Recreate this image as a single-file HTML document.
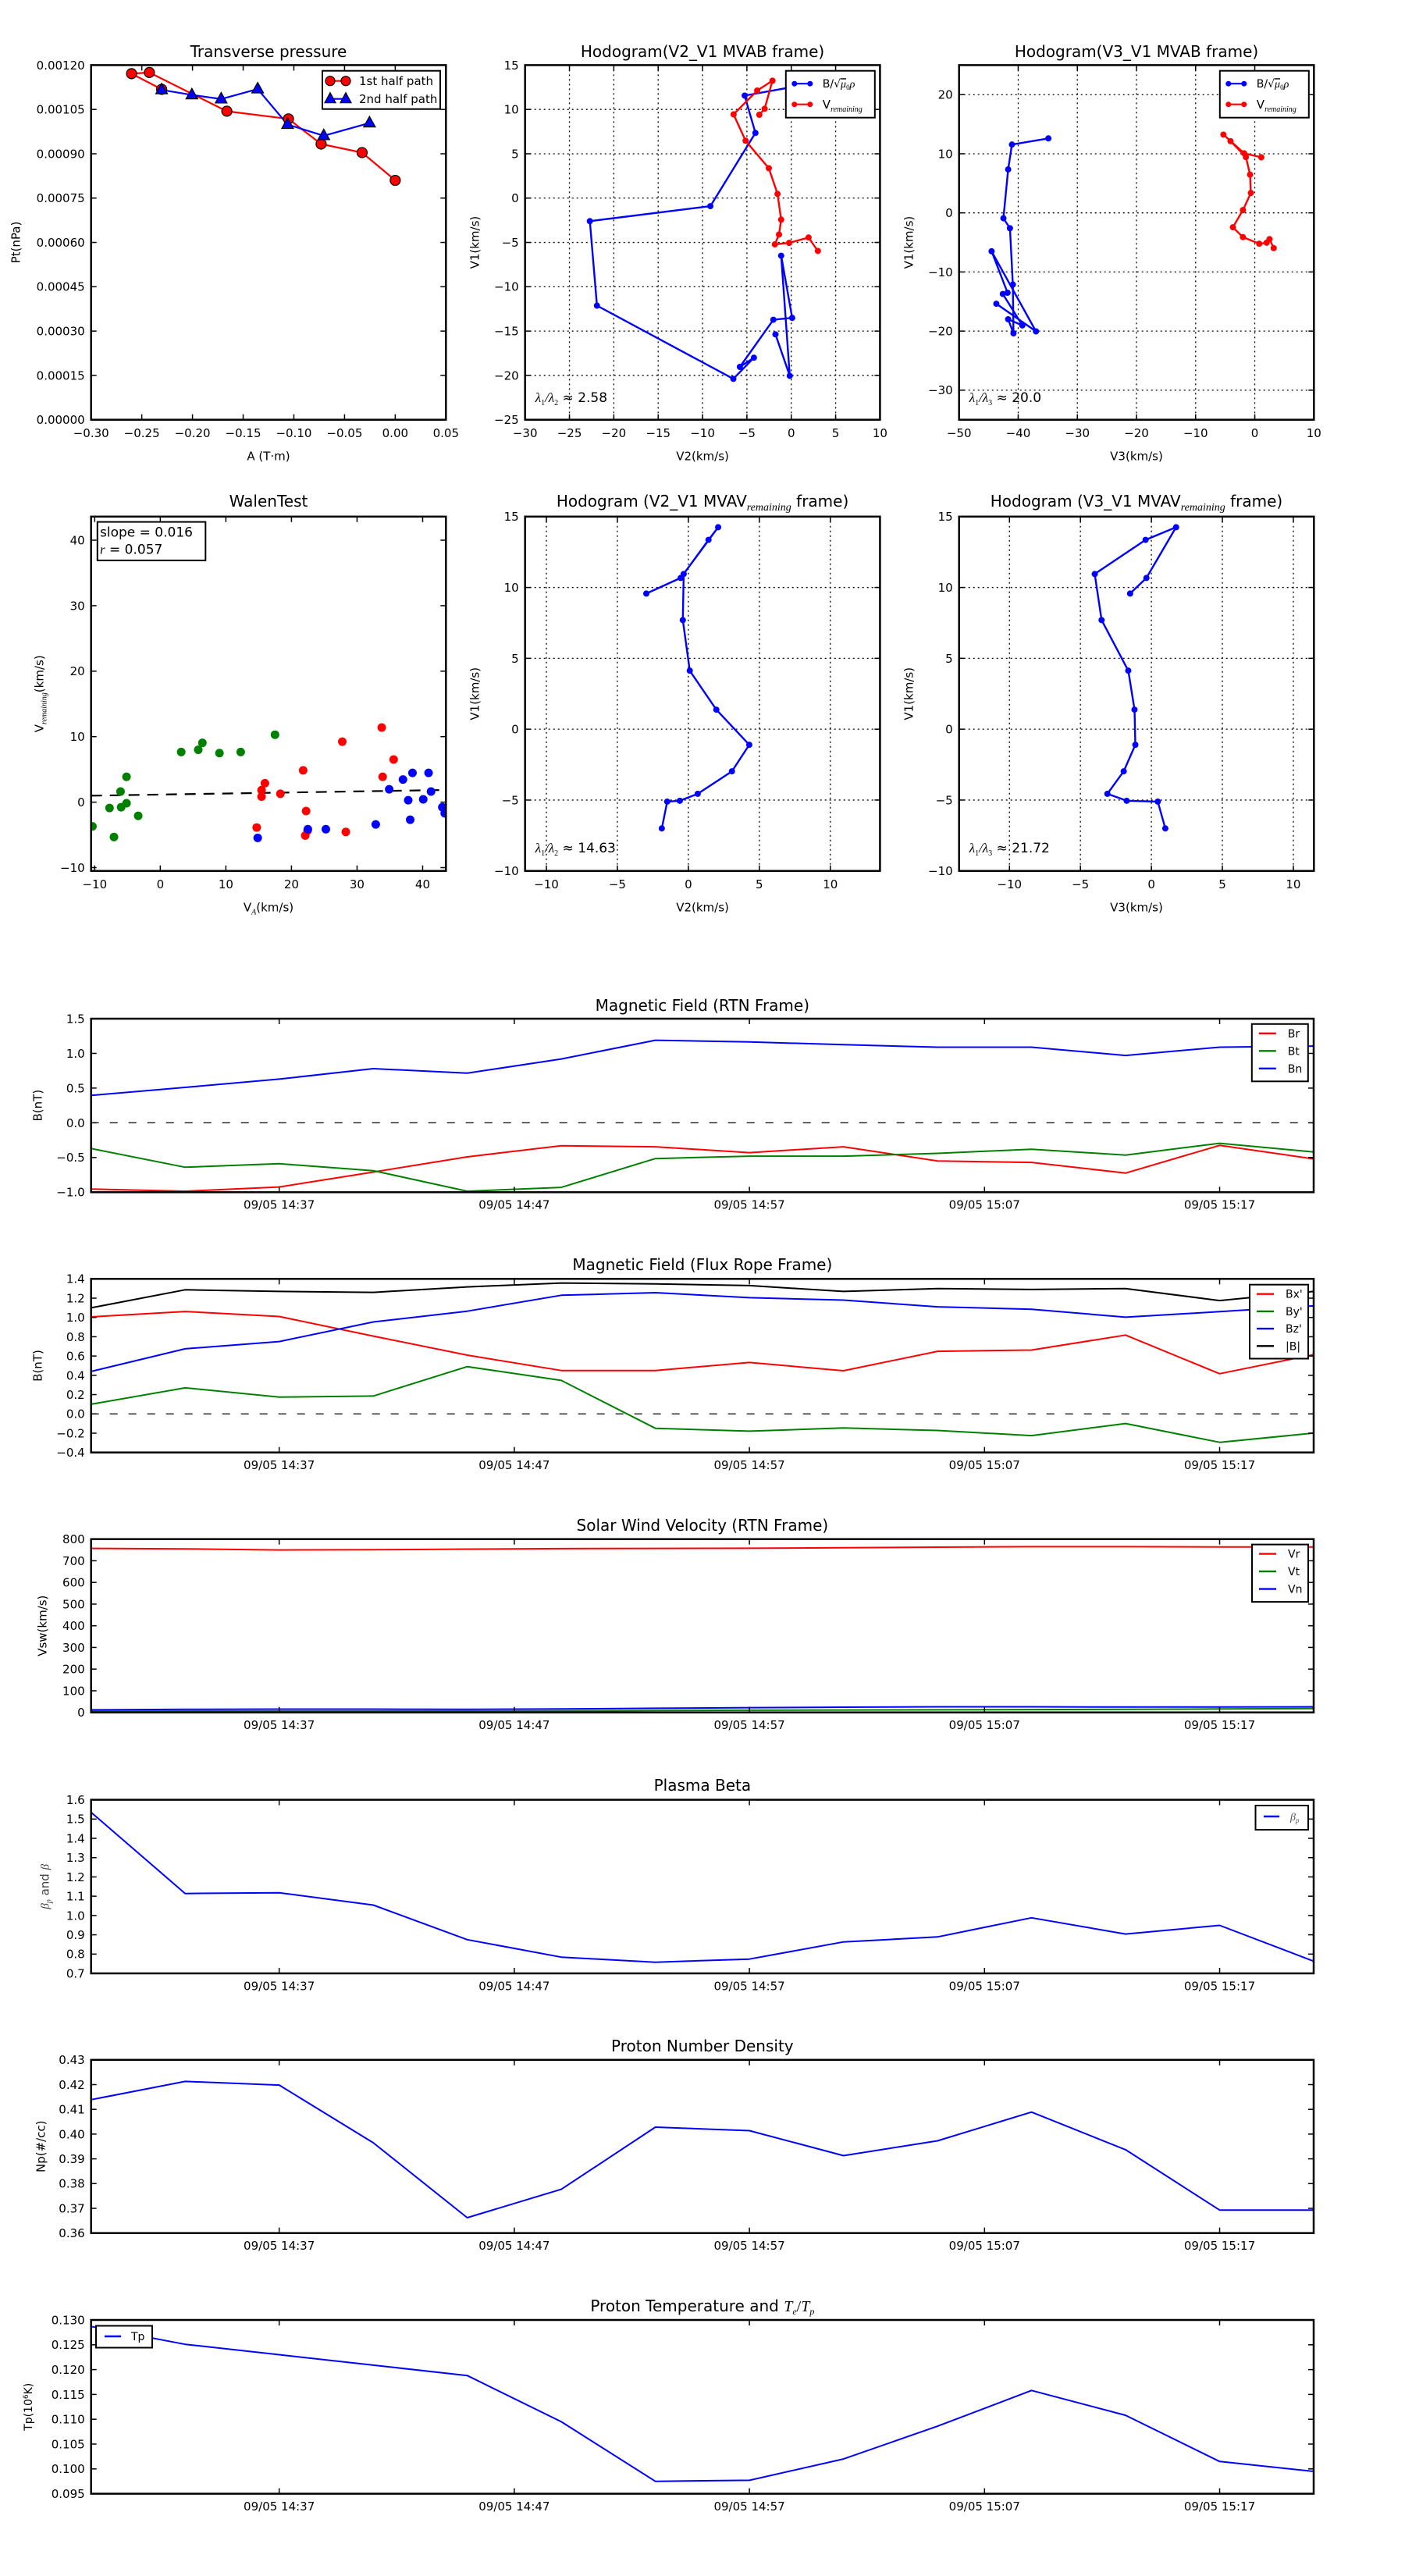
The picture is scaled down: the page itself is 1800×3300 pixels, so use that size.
<!DOCTYPE html>
<html><head><meta charset="utf-8"><title>Flux rope analysis</title>
<style>
html,body{margin:0;padding:0;background:#fff;}
svg{display:block;font-family:"DejaVu Sans","Liberation Sans",sans-serif;}
</style></head>
<body>
<svg id="fig" xmlns="http://www.w3.org/2000/svg" width="1800" height="3300" viewBox="0 0 1800 3300">
<rect x="0" y="0" width="1800" height="3300" fill="#fff"/>
<defs id="defs"></defs>
</svg>
<script>
// ---------------- DATA ----------------
// Transverse pressure
const pt1A = [0, -0.0327, -0.0731, -0.1053, -0.1661, -0.2425, -0.2601, -0.2304];
const pt1P = [0.000810, 0.000904, 0.000933, 0.001018, 0.001044, 0.001175, 0.001171, 0.001118];
const pt2A = [-0.2304, -0.2006, -0.1717, -0.1357, -0.1062, -0.0705, -0.0254];
const pt2P = [0.001116, 0.001099, 0.001085, 0.001119, 0.000999, 0.000961, 0.001004];
// Hodogram MVAB (B/sqrt(mu0 rho))
const hbV1 = [12.6, 11.56, 7.35, -0.91, -2.6, -12.13, -20.39, -18.0, -19.04, -13.72, -13.51, -6.5, -20.05, -15.37];
const hbV2 = [0.5, -5.25, -4.04, -9.12, -22.7, -21.9, -6.53, -4.21, -5.79, -2.02, 0.1, -1.14, -0.17, -1.78];
const hbV3 = [-34.9, -41.06, -41.7, -42.5, -41.4, -40.9, -40.8, -41.7, -39.3, -42.6, -41.8, -44.5, -37.0, -43.7];
// Hodogram MVAB (V remaining)
const hvV1 = [9.4, 10.08, 13.24, 12.13, 9.44, 6.47, 3.37, 0.47, -2.43, -4.11, -5.22, -5.05, -4.45, -5.96];
const hvV2 = [-3.6, -3.0, -2.12, -3.84, -6.5, -5.15, -2.53, -1.55, -1.14, -1.38, -1.85, -0.24, 1.95, 3.0];
const hvV3 = [1.1, -1.8, -5.3, -4.1, -1.5, -0.8, -0.66, -2.0, -3.7, -2.0, 0.76, 2.0, 2.5, 3.2];
// Hodogram MVAV remaining frame
const hrV1 = [9.57, 10.67, 14.25, 13.36, 10.95, 7.7, 4.13, 1.38, -1.1, -2.97, -4.56, -5.05, -5.11, -7.0];
const hrV2 = [-2.96, -0.54, 2.1, 1.42, -0.33, -0.39, 0.1, 1.97, 4.29, 3.07, 0.66, -0.6, -1.49, -1.87];
const hrV3 = [-1.5, -0.35, 1.74, -0.41, -3.99, -3.51, -1.63, -1.19, -1.13, -1.95, -3.1, -1.74, 0.45, 0.98];
const lambdaTexts = ["2.58", "20.0", "14.63", "21.72"];
// Walen test
const walGreenX = [-10.34, -7.74, -7.06, -6.06, -5.97, -5.15, -5.15, -3.37, 3.19, 5.79, 6.42, 9.02, 12.26, 17.49];
const walGreenY = [-3.7, -0.89, -5.32, 1.62, -0.77, 3.87, -0.17, -2.09, 7.66, 8.0, 9.06, 7.49, 7.66, 10.3];
const walRedX = [14.7, 15.44, 15.44, 15.95, 18.31, 21.78, 22.23, 22.1, 22.46, 27.75, 28.29, 33.76, 33.9, 35.58];
const walRedY = [-3.87, 1.83, 0.85, 2.89, 1.28, 4.85, -1.36, -5.1, -4.34, 9.23, -4.55, 11.4, 3.87, 6.51];
const walBlueX = [14.85, 22.5, 25.24, 32.85, 34.9, 37.0, 37.8, 38.1, 38.45, 40.09, 40.9, 41.28, 43.0, 43.37];
const walBlueY = [-5.45, -4.13, -4.13, -3.4, 1.96, 3.45, 0.3, -2.68, 4.47, 0.43, 4.47, 1.62, -0.77, -1.7];
const walSlope = 0.016;
const walIntercept = 1.16;
const walR = 0.057;
// Time series (minutes after 09/05 14:29)
const tMin = [0, 4, 8, 12, 16, 20, 24, 28, 32, 36, 40, 44, 48, 52];
const timeTicks = [8, 18, 28, 38, 48];
const timeTickLabels = ["09/05 14:37", "09/05 14:47", "09/05 14:57", "09/05 15:07", "09/05 15:17"];
const Br = [-0.955, -0.985, -0.925, -0.71, -0.49, -0.33, -0.345, -0.43, -0.345, -0.55, -0.57, -0.725, -0.325, -0.52];
const Bt = [-0.37, -0.64, -0.59, -0.69, -0.985, -0.93, -0.515, -0.48, -0.48, -0.44, -0.38, -0.465, -0.295, -0.42];
const Bn = [0.395, 0.51, 0.63, 0.78, 0.715, 0.92, 1.19, 1.165, 1.125, 1.09, 1.09, 0.97, 1.09, 1.105];
const Bx = [1.006, 1.062, 1.01, 0.807, 0.609, 0.45, 0.45, 0.533, 0.447, 0.649, 0.662, 0.817, 0.417, 0.615];
const By = [0.10, 0.27, 0.175, 0.185, 0.49, 0.347, -0.149, -0.179, -0.146, -0.172, -0.225, -0.10, -0.295, -0.199];
const Bz = [0.44, 0.675, 0.75, 0.953, 1.065, 1.23, 1.257, 1.205, 1.18, 1.11, 1.085, 1.003, 1.06, 1.12];
const Bmag = [1.10, 1.287, 1.27, 1.26, 1.317, 1.357, 1.347, 1.33, 1.27, 1.30, 1.29, 1.30, 1.175, 1.27];
const Vr = [757, 755, 750, 751, 754, 756, 757, 758, 760, 763, 765, 765, 764, 764];
const Vt = [5, 6, 6, 6, 6, 7, 9, 10, 11, 12, 13, 14, 16, 18];
const Vn = [12, 14, 15, 15, 14, 16, 19, 22, 24, 26, 26, 25, 25, 26];
const betaP = [1.535, 1.114, 1.118, 1.054, 0.875, 0.784, 0.758, 0.774, 0.863, 0.889, 0.988, 0.904, 0.949, 0.763];
const Np = [0.4139, 0.4213, 0.4198, 0.3965, 0.3662, 0.3777, 0.4028, 0.4014, 0.3913, 0.3973, 0.4089, 0.3937, 0.3693, 0.3693];
const Tp = [0.1287, 0.1251, 0.1230, 0.1209, 0.1188, 0.1095, 0.0975, 0.0977, 0.1020, 0.1086, 0.1158, 0.1108, 0.1015, 0.0995];

// ---------------- HELPERS ----------------
const NS = 'http://www.w3.org/2000/svg';
const svg = document.getElementById('fig');
const defs = document.getElementById('defs');
let clipCount = 0;
function mk(tag, attrs, parent, name) {
  const e = document.createElementNS(NS, tag);
  for (const k in attrs) e.setAttribute(k, attrs[k]);
  
  
  (parent || svg).appendChild(e);
  return e;
}
function txt(x, yc, str, size, anchor, parent, name, rot) {
  const t = mk('text', {x: x, y: yc + 0.36 * size, 'font-size': size, 'text-anchor': anchor || 'middle', fill: '#000'}, parent, name);
  if (rot) t.setAttribute('transform', `rotate(${rot} ${x} ${yc})`);
  if (str !== null) t.textContent = str;
  return t;
}
function span(t, str, opts) {
  const s = document.createElementNS(NS, 'tspan');
  for (const k in (opts || {})) s.setAttribute(k, opts[k]);
  s.textContent = str;
  t.appendChild(s);
  return s;
}
function fmtMinus(s) { return s.replace('-', '\u2212'); }

function makeAxes(o) {
  const g = mk('g', {}, svg, o.name + '-panel');
  const sx = v => o.L + (v - o.xmin) / (o.xmax - o.xmin) * (o.R - o.L);
  const sy = v => o.B - (v - o.ymin) / (o.ymax - o.ymin) * (o.B - o.T);
  const id = 'clip' + (clipCount++);
  const cp = document.createElementNS(NS, 'clipPath');
  cp.setAttribute('id', id);
  const cr = document.createElementNS(NS, 'rect');
  cr.setAttribute('x', o.L); cr.setAttribute('y', o.T);
  cr.setAttribute('width', o.R - o.L); cr.setAttribute('height', o.B - o.T);
  cp.appendChild(cr); defs.appendChild(cp);
  if (o.grid) {
    const gg = mk('g', {stroke: '#000', 'stroke-width': 1.3, 'stroke-dasharray': '2,4'}, g, o.name + '-grid');
    o.xticks.forEach(v => { const x = sx(v); if (x > o.L + 1 && x < o.R - 1) mk('line', {x1: x, x2: x, y1: o.T, y2: o.B}, gg, 'grid-line-x'); });
    o.yticks.forEach(v => { const y = sy(v); if (y > o.T + 1 && y < o.B - 1) mk('line', {x1: o.L, x2: o.R, y1: y, y2: y}, gg, 'grid-line-y'); });
  }
  const plot = mk('g', {'clip-path': `url(#${id})`}, g, o.name + '-plot-area');
  return {g, plot, sx, sy, o};
}
function finishAxes(ax) {
  const o = ax.o, g = ax.g;
  const tg = mk('g', {stroke: '#000', 'stroke-width': 1.5}, g, o.name + '-ticks');
  const tl = 7;
  o.xticks.forEach(v => {
    const x = ax.sx(v);
    mk('line', {x1: x, x2: x, y1: o.B, y2: o.B - tl}, tg, 'x-tick');
    mk('line', {x1: x, x2: x, y1: o.T, y2: o.T + tl}, tg, 'x-tick-top');
  });
  o.yticks.forEach(v => {
    const y = ax.sy(v);
    mk('line', {x1: o.L, x2: o.L + tl, y1: y, y2: y}, tg, 'y-tick');
    mk('line', {x1: o.R, x2: o.R - tl, y1: y, y2: y}, tg, 'y-tick-right');
  });
  const lg = mk('g', {}, g, o.name + '-tick-labels');
  o.xticks.forEach((v, i) => {
    txt(ax.sx(v), o.B + (o.xlabOff || 17), o.xtickLabels[i], o.fs || 15, 'middle', lg, 'x-tick-label');
  });
  o.yticks.forEach((v, i) => {
    txt(o.L - 8, ax.sy(v), o.ytickLabels[i], o.fs || 15, 'end', lg, 'y-tick-label');
  });
  mk('rect', {x: o.L, y: o.T, width: o.R - o.L, height: o.B - o.T, fill: 'none', stroke: '#000', 'stroke-width': 2.5}, g, o.name + '-frame');
}
function polyline(ax, xs, ys, color, width, name) {
  const pts = xs.map((x, i) => ax.sx(x).toFixed(1) + ',' + ax.sy(ys[i]).toFixed(1)).join(' ');
  return mk('polyline', {points: pts, fill: 'none', stroke: color, 'stroke-width': width, 'stroke-linejoin': 'round'}, ax.plot, name);
}
function dots(ax, xs, ys, color, r, name, stroke) {
  const gg = mk('g', {}, ax.plot, name + '-markers');
  xs.forEach((x, i) => {
    const c = mk('circle', {cx: ax.sx(x), cy: ax.sy(ys[i]), r: r, fill: color}, gg, name + '-point');
    if (stroke) { c.setAttribute('stroke', stroke); c.setAttribute('stroke-width', 1.2); }
  });
}
function tris(ax, xs, ys, color, name) {
  const gg = mk('g', {}, ax.plot, name + '-markers');
  xs.forEach((x, i) => {
    const cx = ax.sx(x), cy = ax.sy(ys[i]);
    mk('polygon', {points: `${cx},${cy - 8.5} ${cx + 7.5},${cy + 5} ${cx - 7.5},${cy + 5}`, fill: color, stroke: '#000', 'stroke-width': 1.2}, gg, name + '-point');
  });
}
function labelsFrom(vals, dec) { return vals.map(v => fmtMinus(v.toFixed(dec))); }
function title(ax, yc, str) { return txt((ax.o.L + ax.o.R) / 2, yc, str, 20, 'middle', ax.g, ax.o.name + '-title'); }

// ---------------- ROW 1 ----------------
const R1T = 83.4, R1B = 537.7, R2T = 661.8, R2B = 1115.7;
const C = [[116.7, 571.3], [672.7, 1127.4], [1228.7, 1683.3]];

// Transverse pressure
{
  const xt = [-0.30, -0.25, -0.20, -0.15, -0.10, -0.05, 0.00, 0.05];
  const yt = [0, 0.00015, 0.0003, 0.00045, 0.0006, 0.00075, 0.0009, 0.00105, 0.0012];
  const ax = makeAxes({name: 'transverse-pressure', L: C[0][0], R: C[0][1], T: R1T, B: R1B, xmin: -0.30, xmax: 0.05, ymin: 0, ymax: 0.0012,
    xticks: xt, yticks: yt, xtickLabels: labelsFrom(xt, 2), ytickLabels: labelsFrom(yt, 5)});
  polyline(ax, pt1A, pt1P, '#ff0000', 2.2, 'first-half-path-line');
  polyline(ax, pt2A, pt2P, '#0000ff', 2.2, 'second-half-path-line');
  dots(ax, pt1A, pt1P, '#ff0000', 6.5, 'first-half-path', '#000');
  tris(ax, pt2A, pt2P, '#0000ff', 'second-half-path');
  finishAxes(ax);
  title(ax, 66, 'Transverse pressure');
  txt((C[0][0] + C[0][1]) / 2, 584, 'A (T\u00b7m)', 15, 'middle', ax.g, 'x-axis-title');
  txt(20, (R1T + R1B) / 2, 'Pt(nPa)', 15, 'middle', ax.g, 'y-axis-title', -90);
  const lg = mk('g', {}, ax.g, 'legend');
  mk('rect', {x: 413, y: 90.7, width: 151, height: 49, fill: '#fff', stroke: '#000', 'stroke-width': 2}, lg, 'legend-box');
  mk('line', {x1: 423, x2: 443, y1: 103.7, y2: 103.7, stroke: '#ff0000', 'stroke-width': 2.2}, lg, 'legend-line-1st');
  mk('circle', {cx: 423, cy: 103.7, r: 6, fill: '#ff0000', stroke: '#000', 'stroke-width': 1.2}, lg, 'legend-marker-1st');
  mk('circle', {cx: 443, cy: 103.7, r: 6, fill: '#ff0000', stroke: '#000', 'stroke-width': 1.2}, lg, 'legend-marker-1st');
  txt(460, 103.7, '1st half path', 15, 'start', lg, 'legend-entry-1st');
  mk('line', {x1: 423, x2: 443, y1: 126.7, y2: 126.7, stroke: '#0000ff', 'stroke-width': 2.2}, lg, 'legend-line-2nd');
  [423, 443].forEach(cx => mk('polygon', {points: `${cx},${126.7 - 8} ${cx + 7},${126.7 + 5} ${cx - 7},${126.7 + 5}`, fill: '#0000ff', stroke: '#000', 'stroke-width': 1.2}, lg, 'legend-marker-2nd'));
  txt(460, 126.7, '2nd half path', 15, 'start', lg, 'legend-entry-2nd');
}

function hodoLegend(g, x, y) {
  const lg = mk('g', {}, g, 'legend');
  mk('rect', {x: x, y: y, width: 114, height: 60, fill: '#fff', stroke: '#000', 'stroke-width': 2}, lg, 'legend-box');
  const e1 = y + 16.5, e2 = y + 43;
  mk('line', {x1: x + 11, x2: x + 31, y1: e1, y2: e1, stroke: '#0000ff', 'stroke-width': 2.2}, lg, 'legend-line-b');
  mk('circle', {cx: x + 11, cy: e1, r: 3.5, fill: '#0000ff'}, lg, 'legend-marker-b');
  mk('circle', {cx: x + 31, cy: e1, r: 3.5, fill: '#0000ff'}, lg, 'legend-marker-b');
  const t1 = txt(x + 47, e1, 'B/\u221a', 14, 'start', lg, 'legend-entry-b');
  span(t1, '\u03bc', {'font-family': '"Liberation Serif",serif', 'font-style': 'italic', 'text-decoration': 'overline'});
  span(t1, '0', {'font-size': 9, dy: 3, 'font-family': '"Liberation Serif",serif'});
  span(t1, '\u03c1', {'font-family': '"Liberation Serif",serif', 'font-style': 'italic', dy: -3});
  mk('line', {x1: x + 11, x2: x + 31, y1: e2, y2: e2, stroke: '#ff0000', 'stroke-width': 2.2}, lg, 'legend-line-v');
  mk('circle', {cx: x + 11, cy: e2, r: 3.5, fill: '#ff0000'}, lg, 'legend-marker-v');
  mk('circle', {cx: x + 31, cy: e2, r: 3.5, fill: '#ff0000'}, lg, 'legend-marker-v');
  const t2 = txt(x + 47, e2, 'V', 15, 'start', lg, 'legend-entry-v');
  span(t2, 'remaining', {'font-size': 10, dy: 4, 'font-style': 'italic', 'font-family': '"Liberation Serif",serif'});
}
function lambdaText(g, x, yc, idx, val) {
  const t = txt(x, yc, null, 17, 'start', g, 'eigenvalue-ratio');
  span(t, '\u03bb', {'font-style': 'italic', 'font-family': '"Liberation Serif",serif'});
  span(t, '1', {'font-size': 10, dy: 4, 'font-family': '"Liberation Serif",serif'});
  span(t, '/\u03bb', {dy: -4, 'font-style': 'italic', 'font-family': '"Liberation Serif",serif'});
  span(t, String(idx), {'font-size': 10, dy: 4, 'font-family': '"Liberation Serif",serif'});
  span(t, ' \u2248 ' + val, {dy: -4});
}
function hodo(name, col, T, B, xr, yr, xt, yt, xs1, ys1, xs2, ys2, ttl, xlab, lamIdx, lamVal, legend, titleY, xlabY, lamY, subTitle) {
  const ax = makeAxes({name: name, L: C[col][0], R: C[col][1], T: T, B: B, xmin: xr[0], xmax: xr[1], ymin: yr[0], ymax: yr[1],
    xticks: xt, yticks: yt, xtickLabels: labelsFrom(xt, 0), ytickLabels: labelsFrom(yt, 0), grid: true});
  polyline(ax, xs1, ys1, '#0000ff', 2.4, 'b-alfven-line');
  dots(ax, xs1, ys1, '#0000ff', 4, 'b-alfven');
  if (xs2) { polyline(ax, xs2, ys2, '#ff0000', 2.4, 'v-remaining-line'); dots(ax, xs2, ys2, '#ff0000', 4, 'v-remaining'); }
  finishAxes(ax);
  if (subTitle) {
    const t = title(ax, titleY, null);
    t.textContent = '';
    span(t, ttl[0]);
    span(t, 'remaining', {'font-size': 14, dy: 5, 'font-style': 'italic', 'font-family': '"Liberation Serif",serif'});
    span(t, ' ' + ttl[1], {dy: -5});
  } else title(ax, titleY, ttl);
  txt((C[col][0] + C[col][1]) / 2, xlabY, xlab, 15, 'middle', ax.g, 'x-axis-title');
  txt(C[col][0] - 64.5, (T + B) / 2, 'V1(km/s)', 15, 'middle', ax.g, 'y-axis-title', -90);
  lambdaText(ax.g, C[col][0] + 13, lamY, lamIdx, lamVal);
  if (legend) hodoLegend(ax.g, legend[0], legend[1]);
  return ax;
}
hodo('hodogram-v2-v1-mvab', 1, R1T, R1B, [-30, 10], [-25, 15], [-30, -25, -20, -15, -10, -5, 0, 5, 10], [-25, -20, -15, -10, -5, 0, 5, 10, 15],
  hbV2, hbV1, hvV2, hvV1, 'Hodogram(V2_V1 MVAB frame)', 'V2(km/s)', 2, lambdaTexts[0], [1006.8, 90.7], 66, 584, 509, false);
hodo('hodogram-v3-v1-mvab', 2, R1T, R1B, [-50, 10], [-35, 25], [-50, -40, -30, -20, -10, 0, 10], [-30, -20, -10, 0, 10, 20],
  hbV3, hbV1, hvV3, hvV1, 'Hodogram(V3_V1 MVAB frame)', 'V3(km/s)', 3, lambdaTexts[1], [1562.8, 90.7], 66, 584, 509, false);
hodo('hodogram-v2-v1-mvav', 1, R2T, R2B, [-11.5, 13.5], [-10, 15], [-10, -5, 0, 5, 10], [-10, -5, 0, 5, 10, 15],
  hrV2, hrV1, null, null, ['Hodogram (V2_V1 MVAV', 'frame)'], 'V2(km/s)', 2, lambdaTexts[2], null, 642, 1162, 1086, true);
hodo('hodogram-v3-v1-mvav', 2, R2T, R2B, [-13.55, 11.45], [-10, 15], [-10, -5, 0, 5, 10], [-10, -5, 0, 5, 10, 15],
  hrV3, hrV1, null, null, ['Hodogram (V3_V1 MVAV', 'frame)'], 'V3(km/s)', 3, lambdaTexts[3], null, 642, 1162, 1086, true);

// Walen test
{
  const xt = [-10, 0, 10, 20, 30, 40], yt = [-10, 0, 10, 20, 30, 40];
  const ax = makeAxes({name: 'walen-test', L: C[0][0], R: C[0][1], T: R2T, B: R2B, xmin: -10.55, xmax: 43.55, ymin: -10.5, ymax: 43.6,
    xticks: xt, yticks: yt, xtickLabels: labelsFrom(xt, 0), ytickLabels: labelsFrom(yt, 0)});
  const fx = [ax.o.xmin, ax.o.xmax];
  const fy = fx.map(x => walSlope * x + walIntercept);
  const fl = polyline(ax, fx, fy, '#000', 2.2, 'fit-line');
  fl.setAttribute('stroke-dasharray', '14,10');
  dots(ax, walGreenX, walGreenY, '#008000', 5.5, 'walen-green');
  dots(ax, walRedX, walRedY, '#ff0000', 5.5, 'walen-red');
  dots(ax, walBlueX, walBlueY, '#0000ff', 5.5, 'walen-blue');
  finishAxes(ax);
  title(ax, 642, 'WalenTest');
  const xl = txt((C[0][0] + C[0][1]) / 2, 1162, 'V', 15, 'middle', ax.g, 'x-axis-title');
  span(xl, 'A', {'font-size': 10, dy: 4, 'font-style': 'italic', 'font-family': '"Liberation Serif",serif'});
  span(xl, '(km/s)', {dy: -4});
  const yl = txt(50, (R2T + R2B) / 2, 'V', 15, 'middle', ax.g, 'y-axis-title', -90);
  span(yl, 'remaining', {'font-size': 10, dy: 4, 'font-style': 'italic', 'font-family': '"Liberation Serif",serif'});
  span(yl, '(km/s)', {dy: -4});
  const bx = mk('g', {}, ax.g, 'fit-stats-box');
  mk('rect', {x: 124.8, y: 668.6, width: 138.5, height: 49.3, fill: '#fff', stroke: '#000', 'stroke-width': 2}, bx, 'fit-stats-frame');
  txt(128, 681.4, 'slope = ' + walSlope.toFixed(3), 17, 'start', bx, 'slope-text');
  const rt = txt(128, 703.6, null, 17, 'start', bx, 'r-text');
  span(rt, 'r', {'font-style': 'italic', 'font-family': '"Liberation Serif",serif'});
  span(rt, ' = ' + walR.toFixed(3));
}

// ---------------- TIME SERIES ----------------
const TL = 116.7, TR = 1683;
function tsAxes(name, T, B, ymin, ymax, yt, dec) {
  return makeAxes({name: name, L: TL, R: TR, T: T, B: B, xmin: 0, xmax: 52, ymin: ymin, ymax: ymax,
    xticks: timeTicks, yticks: yt, xtickLabels: timeTickLabels, ytickLabels: labelsFrom(yt, dec), xlabOff: 16});
}
function zeroLine(ax) {
  const l = mk('line', {x1: TL, x2: TR, y1: ax.sy(0), y2: ax.sy(0), stroke: '#000', 'stroke-width': 1.3, 'stroke-dasharray': '10,14'}, ax.plot, 'zero-line');
}
function tsLegend(g, x, y, w, entries, step) {
  const lg = mk('g', {}, g, 'legend');
  mk('rect', {x: x, y: y, width: w, height: step * entries.length + 6, fill: '#fff', stroke: '#000', 'stroke-width': 2}, lg, 'legend-box');
  entries.forEach((e, i) => {
    const yy = y + 12 + i * step;
    mk('line', {x1: x + 9, x2: x + 31, y1: yy, y2: yy, stroke: e[1], 'stroke-width': 2.4}, lg, 'legend-line');
    const t = txt(x + 46, yy, e[0], 14, 'start', lg, 'legend-entry');
  });
  return lg;
}
// Magnetic field RTN
{
  const yt = [-1.0, -0.5, 0.0, 0.5, 1.0, 1.5];
  const ax = tsAxes('magnetic-field-rtn', 1305, 1527.3, -1.0, 1.5, yt, 1);
  zeroLine(ax);
  polyline(ax, tMin, Br, '#ff0000', 2, 'br-line');
  polyline(ax, tMin, Bt, '#008000', 2, 'bt-line');
  polyline(ax, tMin, Bn, '#0000ff', 2, 'bn-line');
  finishAxes(ax);
  title(ax, 1288, 'Magnetic Field (RTN Frame)');
  txt(48, (1305 + 1527.3) / 2, 'B(nT)', 15, 'middle', ax.g, 'y-axis-title', -90);
  tsLegend(ax.g, 1603.8, 1311.8, 72, [['Br', '#ff0000'], ['Bt', '#008000'], ['Bn', '#0000ff']], 22.5);
}
// Magnetic field flux rope
{
  const yt = [-0.4, -0.2, 0.0, 0.2, 0.4, 0.6, 0.8, 1.0, 1.2, 1.4];
  const ax = tsAxes('magnetic-field-flux-rope', 1638.3, 1860.7, -0.4, 1.4, yt, 1);
  zeroLine(ax);
  polyline(ax, tMin, Bx, '#ff0000', 2, 'bx-line');
  polyline(ax, tMin, By, '#008000', 2, 'by-line');
  polyline(ax, tMin, Bz, '#0000ff', 2, 'bz-line');
  polyline(ax, tMin, Bmag, '#000', 2, 'bmag-line');
  finishAxes(ax);
  title(ax, 1620, 'Magnetic Field (Flux Rope Frame)');
  txt(48, (1638.3 + 1860.7) / 2, 'B(nT)', 15, 'middle', ax.g, 'y-axis-title', -90);
  tsLegend(ax.g, 1601, 1645.7, 75, [["Bx'", '#ff0000'], ["By'", '#008000'], ["Bz'", '#0000ff'], ['|B|', '#000']], 22.2);
}
// Solar wind velocity
{
  const yt = [0, 100, 200, 300, 400, 500, 600, 700, 800];
  const ax = tsAxes('solar-wind-velocity', 1971.7, 2193.7, 0, 800, yt, 0);
  polyline(ax, tMin, Vr, '#ff0000', 2, 'vr-line');
  polyline(ax, tMin, Vt, '#008000', 2, 'vt-line');
  polyline(ax, tMin, Vn, '#0000ff', 2, 'vn-line');
  finishAxes(ax);
  title(ax, 1954, 'Solar Wind Velocity (RTN Frame)');
  txt(54, (1971.7 + 2193.7) / 2, 'Vsw(km/s)', 15, 'middle', ax.g, 'y-axis-title', -90);
  tsLegend(ax.g, 1604, 1978.6, 72, [['Vr', '#ff0000'], ['Vt', '#008000'], ['Vn', '#0000ff']], 22.5);
}
// Plasma beta
{
  const yt = [0.7, 0.8, 0.9, 1.0, 1.1, 1.2, 1.3, 1.4, 1.5, 1.6];
  const ax = tsAxes('plasma-beta', 2305.6, 2528, 0.7, 1.6, yt, 1);
  polyline(ax, tMin, betaP, '#0000ff', 2, 'beta-p-line');
  finishAxes(ax);
  title(ax, 2287, 'Plasma Beta');
  const yl = txt(57, (2305.6 + 2528) / 2, null, 15, 'middle', ax.g, 'y-axis-title', -90);
  yl.setAttribute('fill', '#444');
  span(yl, '\u03b2', {'font-style': 'italic', 'font-family': '"Liberation Serif",serif'});
  span(yl, 'p', {'font-size': 10, dy: 3, 'font-style': 'italic', 'font-family': '"Liberation Serif",serif'});
  span(yl, ' and ', {dy: -3});
  span(yl, '\u03b2', {'font-style': 'italic', 'font-family': '"Liberation Serif",serif'});
  const lg = mk('g', {}, ax.g, 'legend');
  mk('rect', {x: 1608.5, y: 2313, width: 67.5, height: 31, fill: '#fff', stroke: '#000', 'stroke-width': 2}, lg, 'legend-box');
  mk('line', {x1: 1619, x2: 1639, y1: 2327, y2: 2327, stroke: '#0000ff', 'stroke-width': 2.4}, lg, 'legend-line');
  const lt = txt(1653, 2327, null, 14, 'start', lg, 'legend-entry');
  lt.setAttribute('fill', '#555');
  span(lt, '\u03b2', {'font-style': 'italic', 'font-family': '"Liberation Serif",serif'});
  span(lt, 'p', {'font-size': 9, dy: 3, 'font-style': 'italic', 'font-family': '"Liberation Serif",serif'});
}
// Proton density
{
  const yt = [0.36, 0.37, 0.38, 0.39, 0.40, 0.41, 0.42, 0.43];
  const ax = tsAxes('proton-density', 2638.8, 2860.7, 0.36, 0.43, yt, 2);
  polyline(ax, tMin, Np, '#0000ff', 2, 'np-line');
  finishAxes(ax);
  title(ax, 2621, 'Proton Number Density');
  txt(52, (2638.8 + 2860.7) / 2, 'Np(#/cc)', 15, 'middle', ax.g, 'y-axis-title', -90);
}
// Proton temperature
{
  const yt = [0.095, 0.100, 0.105, 0.110, 0.115, 0.120, 0.125, 0.130];
  const ax = tsAxes('proton-temperature', 2972, 3194.6, 0.095, 0.130, yt, 3);
  polyline(ax, tMin, Tp, '#0000ff', 2, 'tp-line');
  finishAxes(ax);
  const t = title(ax, 2953.6, 'Proton Temperature and ');
  span(t, 'T', {'font-style': 'italic', 'font-family': '"Liberation Serif",serif'});
  span(t, 'e', {'font-size': 12, dy: 4, 'font-style': 'italic', 'font-family': '"Liberation Serif",serif'});
  span(t, '/', {dy: -4, 'font-family': '"Liberation Serif",serif'});
  span(t, 'T', {'font-style': 'italic', 'font-family': '"Liberation Serif",serif'});
  span(t, 'p', {'font-size': 12, dy: 4, 'font-style': 'italic', 'font-family': '"Liberation Serif",serif'});
  const yl = txt(36, (2972 + 3194.6) / 2, 'Tp(10', 14, 'middle', ax.g, 'y-axis-title', -90);
  span(yl, '6', {'font-size': 9, dy: -5});
  span(yl, 'K)', {dy: 5});
  const lg = mk('g', {}, ax.g, 'legend');
  mk('rect', {x: 123, y: 2979.5, width: 72, height: 28, fill: '#fff', stroke: '#000', 'stroke-width': 2}, lg, 'legend-box');
  mk('line', {x1: 134, x2: 155, y1: 2993, y2: 2993, stroke: '#0000ff', 'stroke-width': 2.4}, lg, 'legend-line');
  txt(168, 2993, 'Tp', 14, 'start', lg, 'legend-entry');
}
</script>
</body></html>
